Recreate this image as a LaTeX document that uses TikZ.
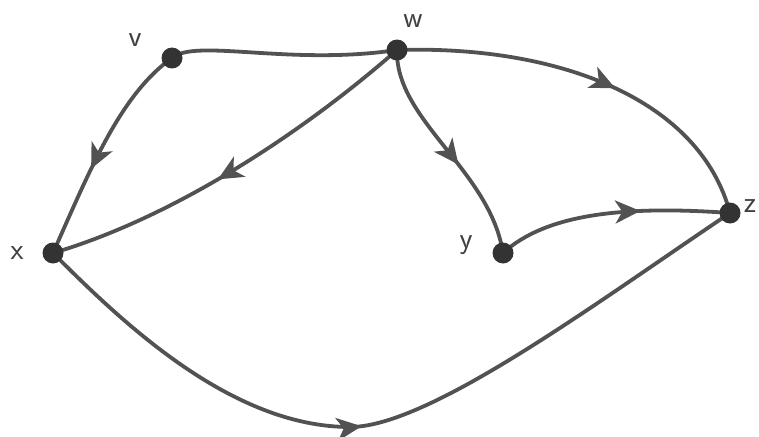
\documentclass[tikz,border=0pt]{standalone}
\usetikzlibrary{arrows.meta,decorations.markings,backgrounds}
\begin{document}
\begin{tikzpicture}[x=1pt,y=-1pt,
  dot/.style={circle,fill=black!80,inner sep=0pt,minimum size=21pt},
  lbl/.style={font=\sffamily\fontsize{30}{30}\selectfont,text=black!75},
  edge/.style={line width=3.8pt,draw=black!68,line cap=round},
  midarrow/.style={postaction={decorate},decoration={markings,
    mark=at position #1 with {\arrow{Stealth[length=25pt,width=23pt,inset=7pt]}}}}
]
\useasboundingbox (0,0) rectangle (759,436);
% vertices
\node[dot] (v) at (172,58) {};
\node[dot] (w) at (397,50) {};
\node[dot] (x) at (53,253) {};
\node[dot] (y) at (503,253) {};
\node[dot] (z) at (730,213) {};
\coordinate (low) at (350,427);
% labels
\node[lbl] (lv) at (135,40) {v};
\node[lbl] (lw) at (413,21) {w};
\node[lbl] (lx) at (17,253) {x};
\node[lbl] (ly) at (466,245) {y};
\node[lbl] (lz) at (750,206) {z};
\begin{pgfonlayer}{background}
\draw[edge] (v.center) .. controls (195,38) and (290,66) .. (w.center);
\draw[edge,midarrow=0.6] (v.center) .. controls (120,95) and (90,170) .. (x.center);
\draw[edge,midarrow=0.55] (w.center) .. controls (300,135) and (172,218) .. (x.center);
\draw[edge,midarrow=0.57] (w.center) .. controls (395,120) and (490,170) .. (y.center);
\draw[edge,midarrow=0.56] (w.center) .. controls (560,45) and (700,100) .. (z.center);
\draw[edge,midarrow=0.62] (y.center) .. controls (545,215) and (620,205) .. (z.center);
\draw[edge,midarrow=0.46] (x.center) .. controls (120,320) and (230,427) .. (low)
  .. controls (430,427) and (600,300) .. (z.center);
\end{pgfonlayer}
\end{tikzpicture}
\end{document}
